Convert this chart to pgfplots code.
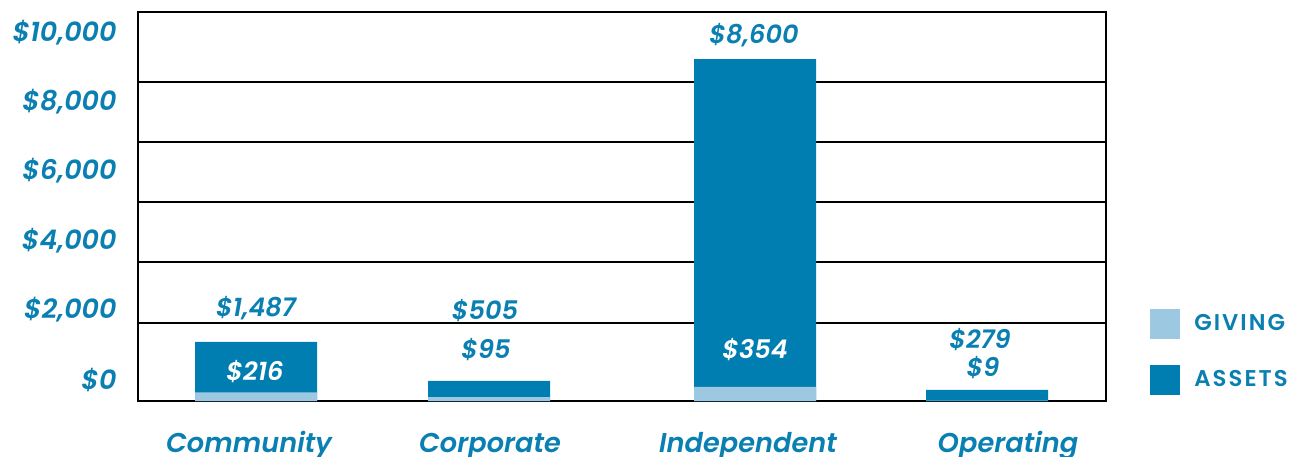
\documentclass[border=0pt]{standalone}
\usepackage{fontspec}
\setmainfont{Poppins}[BoldFont={Poppins SemiBold}, BoldItalicFont={Poppins SemiBold Italic}]
\newfontfamily\legfont{Poppins SemiBold}[LetterSpace=9]
\usepackage{pgfplots}
\pgfplotsset{compat=1.18}
\definecolor{assets}{HTML}{007EB1}
\definecolor{giving}{HTML}{9DC8E2}
\definecolor{txt}{HTML}{0A80B2}
\pgfplotstableread{
x    assets  giving
256  1487    216
489  505     95
755  8600    354
987  279     9
}\datatable
\begin{document}
\begin{tikzpicture}
\useasboundingbox (0pt,0pt) rectangle (646.5pt,228pt);
\begin{axis}[
  at={(69pt,27.5pt)}, anchor=south west,
  scale only axis, width=484pt, height=194.5pt,
  xmin=138, xmax=1106, ymin=0, ymax=9783,
  axis line style={black, line width=1pt},
  ybar, bar width=61pt,
  xtick={249,490,748,1008},
  xticklabels={Community,Corporate,Independent,Operating},
  xticklabel style={font=\bfseries\itshape\fontsize{13.6}{16}\selectfont, text=txt, anchor=base, yshift=-25.8pt},
  ytick={528,2289,4024,5785,7520,9255},
  yticklabels={\$0,{\$2,000},{\$4,000},{\$6,000},{\$8,000},{\$10,000}},
  yticklabel style={font=\bfseries\itshape\fontsize{13.5}{15}\selectfont, text=txt, anchor=east, inner sep=0pt, xshift=-10.5pt},
  major tick length=0pt,
  extra y ticks={1962,3496,5005,6514,8023},
  extra y tick labels={},
  extra y tick style={grid=major, major grid style={black, line width=0.8pt}},
  legend style={at={(1.0455,0.2365)}, anchor=north west, draw=none, fill=none,
    font=\legfont\fontsize{11.4}{13}\selectfont, text=txt, row sep=13pt, inner sep=0pt,
    nodes={inner sep=0pt}},
  legend cell align=left,
]
\addlegendimage{legend image code/.code={\fill[giving] (0pt,-7.25pt) rectangle (14.5pt,7.25pt);}}
\addlegendentry{\hspace{7pt}GIVING}
\addlegendimage{legend image code/.code={\fill[assets] (0pt,-7.25pt) rectangle (14.5pt,7.25pt);}}
\addlegendentry{\hspace{7pt}ASSETS}
\addplot[fill=assets, draw=none, bar shift=0pt, forget plot] table[x=x, y=assets] {\datatable};
\addplot[fill=giving, draw=none, bar shift=0pt, forget plot] table[x=x, y=giving] {\datatable};
\tikzset{vl/.style={font=\bfseries\itshape\fontsize{12.8}{14}\selectfont, text=txt}}
\node[vl] at (axis cs:256,2339) {\$1,487};
\node[vl, text=white] at (axis cs:255,729) {\$216};
\node[vl] at (axis cs:485,2264) {\$505};
\node[vl] at (axis cs:486,1283) {\$95};
\node[vl] at (axis cs:754,9205) {\$8,600};
\node[vl, text=white] at (axis cs:755,1283) {\$354};
\node[vl] at (axis cs:980,1534) {\$279};
\node[vl] at (axis cs:983,830) {\$9};
\end{axis}
\end{tikzpicture}
\end{document}
